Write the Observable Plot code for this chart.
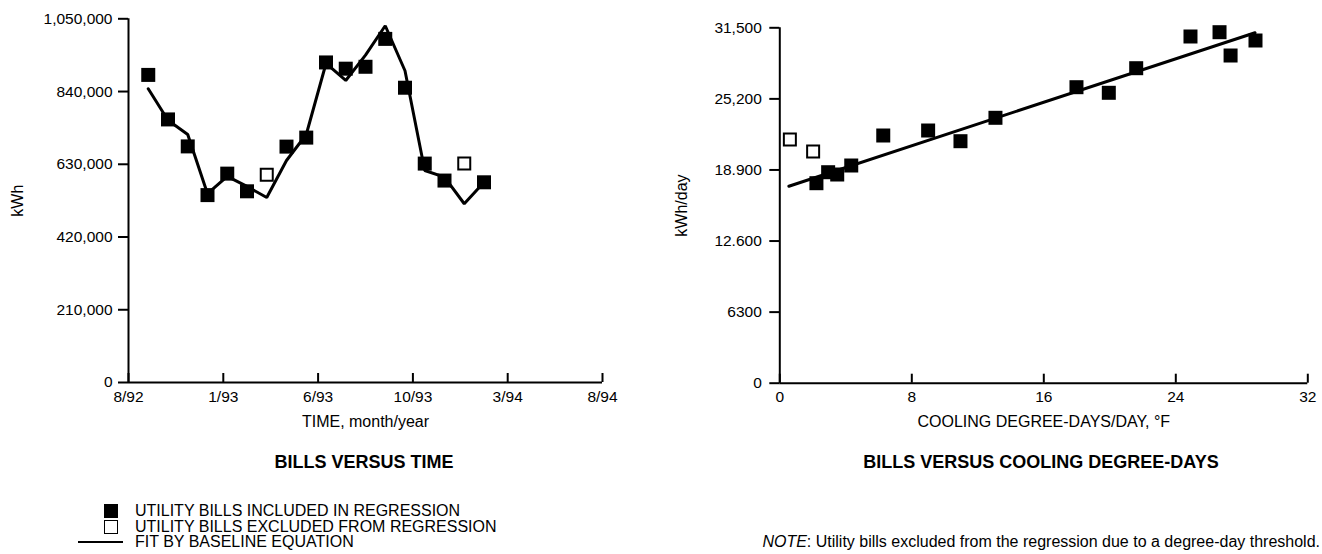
<!DOCTYPE html>
<html><head><meta charset="utf-8">
<script src="https://cdn.jsdelivr.net/npm/d3@7"></script>
<script src="https://cdn.jsdelivr.net/npm/@observablehq/plot@0.6"></script>
<style>
body{margin:0;background:#fff;font-family:"Liberation Sans",Arial,sans-serif;color:#000}
#wrap{position:relative;width:1322px;height:554px;overflow:hidden;background:#fff}
#left{position:absolute;left:0;top:0}
#right{position:absolute;left:660px;top:0}
.title{position:absolute;font-weight:bold;font-size:18px;line-height:18px;transform:translate(-50%,-50%);white-space:nowrap}
.leg{position:absolute;font-size:16px;line-height:16px;white-space:nowrap}
.sq{position:absolute;width:14px;height:14px;box-sizing:border-box}
</style></head><body>
<div id="wrap">
  <div id="left"></div>
  <div id="right"></div>
  <div class="title" style="left:364px;top:462px">BILLS VERSUS TIME</div>
  <div class="title" style="left:1041px;top:462px">BILLS VERSUS COOLING DEGREE-DAYS</div>
  <div class="sq" style="left:104px;top:504px;background:#000"></div>
  <div class="leg" style="left:135px;top:503px">UTILITY BILLS INCLUDED IN REGRESSION</div>
  <div class="sq" style="left:104px;top:520px;border:1.5px solid #000;background:#fff"></div>
  <div class="leg" style="left:135px;top:519px">UTILITY BILLS EXCLUDED FROM REGRESSION</div>
  <div style="position:absolute;left:78px;top:541px;width:45px;height:2px;background:#000"></div>
  <div class="leg" style="left:135px;top:534px">FIT BY BASELINE EQUATION</div>
  <div class="leg" style="right:2px;top:534px"><i>NOTE</i>: Utility bills excluded from the regression due to a degree-day threshold.</div>
</div>
<script>
// ---- Bills versus time (months since 8/92) ----
const billMonth    = [1, 2, 3, 4, 5, 6, 7, 8, 9, 10, 11, 12, 13, 14, 15, 16, 17, 18];
const billKwh      = [888000, 759500, 681600, 541000, 603000, 552000, 600000, 681000, 707000, 924000, 906000, 911500, 992000, 851000, 632000, 583000, 632600, 578000];
const billIncluded = [1, 1, 1, 1, 1, 1, 0, 1, 1, 1, 1, 1, 1, 1, 1, 1, 0, 1];
const fitKwh       = [848000, 757000, 716000, 545000, 595000, 566000, 534000, 641000, 716000, 921000, 872000, 945000, 1030000, 900000, 612000, 593000, 516000, 578000];
const timeTickMonths = [0, 4.8, 9.6, 14.4, 19.2, 24];
const timeTickLabels = ["8/92", "1/93", "6/93", "10/93", "3/94", "8/94"];
const kwhTicks = [0, 210000, 420000, 630000, 840000, 1050000];

// ---- Bills versus cooling degree-days ----
const cdd         = [0.61, 2.02, 2.22, 2.93, 3.48, 4.33, 6.27, 8.99, 10.95, 13.07, 17.98, 19.94, 21.6, 24.89, 26.65, 27.32, 28.83];
const kwhPerDay   = [21600, 20535, 17726, 18700, 18497, 19295, 21954, 22397, 21449, 23523, 26235, 25739, 27919, 30729, 31110, 29044, 30374];
const cddIncluded = [0, 0, 1, 1, 1, 1, 1, 1, 1, 1, 1, 1, 1, 1, 1, 1, 1];
const fitCdd      = [0.55, 28.8];
const fitKwhDay   = [17460, 31060];
const cddTicks    = [0, 8, 16, 24, 32];
const dayTicks    = [0, 6300, 12600, 18900, 25200, 31500];
const dayTickLabels = ["0", "6300", "12.600", "18.900", "25,200", "31,500"];

const bills = billMonth.map((m, i) => ({month: m, kwh: billKwh[i], fit: fitKwh[i], included: billIncluded[i]}));
const pts = cdd.map((c, i) => ({cdd: c, kwh: kwhPerDay[i], included: cddIncluded[i]}));
const fitLine = fitCdd.map((c, i) => ({cdd: c, kwh: fitKwhDay[i]}));

const font = '"Liberation Sans", Arial, sans-serif';
const style = {fontFamily: font, fontSize: "15.5px", color: "#000", background: "transparent", overflow: "visible"};

const H = 440;
const lTop = 18.3, lBottom = H - 382;
const left = Plot.plot({
  width: 660, height: H,
  marginLeft: 128, marginRight: 58, marginTop: lTop, marginBottom: lBottom,
  style,
  x: {domain: [0, 24]},
  y: {domain: [0, 1050000]},
  marks: [
    Plot.axisY({ticks: kwhTicks, tickFormat: d3.format(","), tickSize: 10, tickPadding: 6, strokeWidth: 2, label: null}),
    Plot.axisX({ticks: timeTickMonths, tickFormat: d => timeTickLabels[timeTickMonths.indexOf(d)], tickSize: 0, tickPadding: 8, label: null}),
    Plot.tickX(timeTickMonths, {x: d => d, insetTop: (H - lTop - lBottom) - 9, strokeWidth: 2}),
    Plot.ruleX([0], {strokeWidth: 2}),
    Plot.ruleY([0], {strokeWidth: 2}),
    Plot.line(bills, {x: "month", y: "fit", strokeWidth: 3, strokeLinejoin: "miter"}),
    Plot.dot(bills.filter(d => d.included), {x: "month", y: "kwh", symbol: "square", r: 7.9, fill: "#000", stroke: null}),
    Plot.dot(bills.filter(d => !d.included), {x: "month", y: "kwh", symbol: "square", r: 6.77, fill: "#fff", stroke: "#000", strokeWidth: 2}),
    Plot.text(["TIME, month/year"], {text: d => d, frameAnchor: "bottom", lineAnchor: "middle", dy: 39, fontSize: 16}),
    Plot.text(["kWh"], {text: d => d, frameAnchor: "left", textAnchor: "middle", lineAnchor: "middle", dx: -111, rotate: -90, fontSize: 16})
  ]
});
document.getElementById("left").append(left);

const rTop = 27.3, rBottom = H - 382.7;
const right = Plot.plot({
  width: 662, height: H,
  marginLeft: 119.3, marginRight: 14.7, marginTop: rTop, marginBottom: rBottom,
  style,
  x: {domain: [0, 32]},
  y: {domain: [0, 31500]},
  marks: [
    Plot.axisY({ticks: dayTicks, tickFormat: d => dayTickLabels[dayTicks.indexOf(d)], tickSize: 10, tickPadding: 8, strokeWidth: 2, label: null}),
    Plot.axisX({ticks: cddTicks, tickFormat: d => String(d), tickSize: 0, tickPadding: 8, label: null}),
    Plot.tickX(cddTicks, {x: d => d, insetTop: (H - rTop - rBottom) - 9, strokeWidth: 2}),
    Plot.ruleX([0], {strokeWidth: 2}),
    Plot.ruleY([0], {strokeWidth: 2}),
    Plot.line(fitLine, {x: "cdd", y: "kwh", strokeWidth: 3}),
    Plot.dot(pts.filter(d => d.included), {x: "cdd", y: "kwh", symbol: "square", r: 7.9, fill: "#000", stroke: null}),
    Plot.dot(pts.filter(d => !d.included), {x: "cdd", y: "kwh", symbol: "square", r: 6.77, fill: "#fff", stroke: "#000", strokeWidth: 2}),
    Plot.text(["COOLING DEGREE-DAYS/DAY, °F"], {text: d => d, frameAnchor: "bottom", lineAnchor: "middle", dy: 39, fontSize: 16}),
    Plot.text(["kWh/day"], {text: d => d, frameAnchor: "left", textAnchor: "middle", lineAnchor: "middle", dx: -98, rotate: -90, fontSize: 16})
  ]
});
document.getElementById("right").append(right);
</script>
</body></html>
